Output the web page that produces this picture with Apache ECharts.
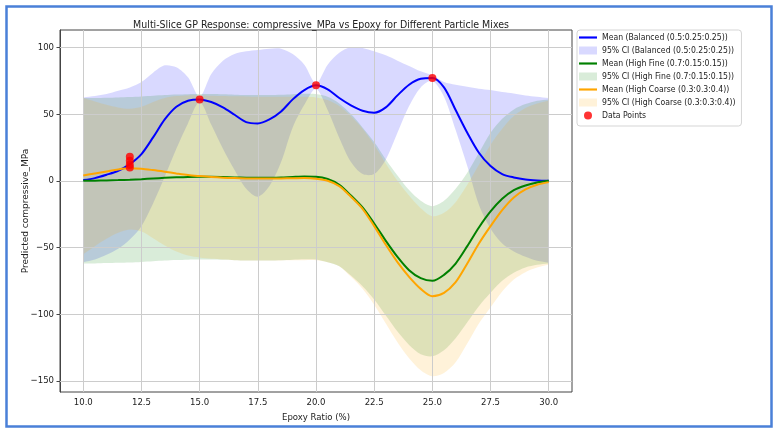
<!DOCTYPE html>
<html>
<head>
<meta charset="utf-8">
<script src="https://cdn.jsdelivr.net/npm/echarts@6/dist/echarts.min.js"></script>
<style>
  html, body { margin: 0; padding: 0; background: #fff; }
  #chart { width: 779px; height: 433px; }
</style>
</head>
<body>
<div id="chart"></div>
<script>
// epoxy ratio grid (%)
const epoxy = [10, 10.5, 11, 11.5, 12, 12.5, 13, 13.5, 14, 14.5, 15, 15.5, 16, 16.5, 17, 17.5, 18, 18.5, 19, 19.5, 20,
  20.5, 21, 21.5, 22, 22.5, 23, 23.5, 24, 24.5, 25, 25.5, 26, 26.5, 27, 27.5, 28, 28.5, 29, 29.5, 30];

// Balanced (0.5:0.25:0.25)
const balancedMean = [0.5, 2, 4.5, 7.5, 12.5, 20, 32.5, 46, 55.5, 60, 61, 59, 55, 49.5, 44, 43, 46, 52, 61, 68, 71.5,
  68.5, 62, 56.5, 52.5, 51, 55, 64, 72, 76.5, 77, 70, 53, 36, 21, 11, 5, 2.5, 1, 0.3, 0];
const balancedUpper = [62.5, 63.5, 65, 67.5, 70, 74, 81, 86.5, 85, 77.5, 63, 80, 90, 95, 97, 98, 99, 99, 95, 87, 73,
  87, 96, 100, 99.5, 97, 94, 90, 86, 82, 79, 74, 72, 70.5, 69, 68, 66.5, 65.5, 64, 63, 62];
const balancedLower = [-61, -59, -55.5, -51, -44, -34, -17, 3, 24, 43, 59, 42, 24, 8, -6, -12, -4, 14, 40, 57, 69,
  53, 32, 14, 5, 5, 16, 36, 56, 70, 75, 63, 38, 11, -18, -36, -47, -53, -57, -60, -61.5];

// High Fine (0.7:0.15:0.15)
const fineMean = [0, 0.1, 0.3, 0.5, 0.8, 1.2, 1.7, 2.2, 2.6, 2.9, 3, 3, 2.8, 2.5, 2.3, 2.2, 2.3, 2.5, 2.9, 3.2, 3,
  1.3, -3, -11, -20, -32, -45, -57, -67, -73, -75, -70.5, -62, -49, -35, -23, -13.5, -7, -3.5, -1.3, 0];
const fineUpper = [62, 62, 62.3, 62.5, 62.8, 63.2, 63.7, 64.2, 64.6, 64.9, 65, 65, 64.8, 64.5, 64.3, 64.2, 64.3, 64.5, 64.9, 65.2, 65,
  63, 58, 50, 40, 29, 16, 4, -7, -15, -19, -15, -6, 6, 21, 36, 46.5, 53.5, 57.5, 60, 61];
const fineLower = [-62, -62, -61.7, -61.5, -61.2, -60.8, -60.3, -59.8, -59.4, -59.1, -59, -59, -59.2, -59.5, -59.7, -59.8, -59.7, -59.5, -59.1, -58.8, -59,
  -61, -64, -71, -79, -89, -101, -113, -123, -130, -131.5, -127, -118, -106, -94, -84, -75, -69, -65, -63, -62];

// High Coarse (0.3:0.3:0.4)
const coarseMean = [4, 5.5, 7, 8.5, 9.3, 9, 8, 6.8, 5.5, 4.3, 3.5, 2.8, 2.3, 2, 1.8, 1.7, 1.7, 1.8, 1.9, 2, 1.5,
  0, -4, -12, -21, -34, -48, -61, -72, -81, -86.5, -84, -76, -62, -47, -34, -22, -12.5, -6.5, -3, -1];
const coarseUpper = [62, 59.5, 57, 55, 54, 55.5, 59, 62, 63.5, 64, 64, 63.8, 63.5, 63.3, 63.2, 63, 63, 63, 63, 63, 62.5,
  60.5, 56, 48.5, 39, 27, 13, 0, -11, -20.5, -26.5, -24, -16, -3, 12, 27, 39, 48.5, 54.5, 58, 60];
const coarseLower = [-55, -49, -43.5, -39, -36.5, -38, -43, -48.5, -53, -56, -57.5, -58.5, -59, -59.5, -59.7, -59.8, -59.8, -59.7, -59.6, -59.5, -59.5,
  -61, -64, -72, -81, -93, -107, -121, -133, -142, -146.5, -144, -136, -122, -107, -95, -83, -74, -68.5, -65, -63];

// observed data points
const pointX = [12, 12, 12, 12, 15, 20, 25];
const pointY = [18, 15, 12, 10, 61, 71.5, 77];

const xTicks = [10, 12.5, 15, 17.5, 20, 22.5, 25, 27.5, 30];
const yTicks = [-150, -100, -50, 0, 50, 100];

const narrow = "'Liberation Sans Narrow', 'DejaVu Sans Condensed', 'DejaVu Sans', sans-serif";
const lineIcon = "path://M0 0H20V2.4H0Z";

const mixes = [
  { key: "bal", mean: balancedMean, up: balancedUpper, lo: balancedLower, color: "#0000ff",
    fill: "rgba(0,0,255,0.15)", label: "Balanced (0.5:0.25:0.25)" },
  { key: "fine", mean: fineMean, up: fineUpper, lo: fineLower, color: "#008000",
    fill: "rgba(0,128,0,0.15)", label: "High Fine (0.7:0.15:0.15)" },
  { key: "coarse", mean: coarseMean, up: coarseUpper, lo: coarseLower, color: "#ffa500",
    fill: "rgba(255,165,0,0.15)", label: "High Coarse (0.3:0.3:0.4)" },
];

// confidence band as one smoothed polygon: upper edge left->right, lower edge right->left
function bandRenderer(up, lo, fill) {
  return function (params, api) {
    const top = epoxy.map((x, i) => api.coord([x, up[i]]));
    const bottom = epoxy.map((x, i) => api.coord([x, lo[i]])).reverse();
    // repeat the corner points so the vertical end edges stay straight
    const pts = [top[0], ...top, top[top.length - 1], bottom[0], ...bottom, bottom[bottom.length - 1]];
    return {
      type: "polygon",
      shape: { points: pts, smooth: 0.3 },
      style: { fill: fill, stroke: null },
      silent: true,
    };
  };
}

const series = [];
mixes.forEach((m) => {
  series.push({
    type: "custom", name: "95% CI (" + m.label + ")", data: [[epoxy[0], m.mean[0]]],
    renderItem: bandRenderer(m.up, m.lo, m.fill), itemStyle: { color: m.fill }, z: 1, silent: true,
  });
});
mixes.forEach((m, i) => {
  const s = {
    type: "line", name: "Mean (" + m.label + ")", data: epoxy.map((x, j) => [x, m.mean[j]]),
    symbol: "none", smooth: 0.3,
    lineStyle: { color: m.color, width: 2 }, itemStyle: { color: m.color }, z: 3, silent: true,
  };
  if (i === 0) {
    // grid lines sit above the bands but under the curves, like matplotlib
    s.markLine = {
      silent: true, symbol: "none", z: 2, animation: false,
      label: { show: false },
      lineStyle: { color: "#cccccc", width: 1, type: "solid" },
      emphasis: { disabled: true },
      data: [...xTicks.map((v) => ({ xAxis: v })), ...yTicks.map((v) => ({ yAxis: v }))],
    };
  }
  series.push(s);
});
series.push({
  type: "scatter", name: "Data Points", data: pointX.map((x, i) => [x, pointY[i]]),
  symbolSize: 8, itemStyle: { color: "#ff0000" }, z: 5, silent: true,
});

const legendData = [];
mixes.forEach((m) => {
  legendData.push({ name: "Mean (" + m.label + ")", icon: lineIcon, itemStyle: { color: m.color } });
  legendData.push({ name: "95% CI (" + m.label + ")", icon: "rect", itemStyle: { color: m.fill } });
});
legendData.push({ name: "Data Points", icon: "circle", itemStyle: { color: "#ff0000" } });

const chart = echarts.init(document.getElementById("chart"), null, { renderer: "canvas" });
chart.setOption({
  animation: false,
  backgroundColor: "#fff",
  title: {
    text: "Multi-Slice GP Response: compressive_MPa vs Epoxy for Different Particle Mixes",
    left: 316, top: 15, textAlign: "center",
    textStyle: { fontFamily: narrow, fontSize: 10.5, fontWeight: "normal", color: "#222" },
  },
  legend: {
    orient: "vertical", left: 577, top: 30, itemWidth: 18, itemHeight: 8, itemGap: 4,
    padding: [3, 6, 6, 2], borderColor: "#d5d5d5", borderWidth: 1, borderRadius: 3,
    backgroundColor: "#fff", selectedMode: false,
    textStyle: { fontFamily: narrow, fontSize: 8.6, color: "#222" },
    data: legendData,
  },
  grid: { left: 60, right: 207, top: 30, bottom: 41, show: true, borderColor: "#444", borderWidth: 1 },
  xAxis: {
    type: "value", min: 9, max: 31,
    name: "Epoxy Ratio (%)", nameLocation: "middle", nameGap: 19,
    nameTextStyle: { fontFamily: narrow, fontSize: 9.5, color: "#222" },
    axisLine: { lineStyle: { color: "#444" } },
    axisTick: { customValues: xTicks, length: 3.5, lineStyle: { color: "#444" } },
    axisLabel: { customValues: xTicks, fontFamily: narrow, fontSize: 9.5, color: "#222", margin: 6,
      formatter: (v) => v.toFixed(1) },
    splitLine: { show: false },
  },
  yAxis: {
    type: "value", min: -158.3, max: 113,
    name: "Predicted compressive_MPa", nameLocation: "middle", nameRotate: 90, nameGap: 30,
    nameMoveOverlap: false,
    nameTextStyle: { fontFamily: "'DejaVu Sans', sans-serif", fontSize: 9, color: "#222" },
    axisLine: { show: true, lineStyle: { color: "#444" } },
    axisTick: { show: true, customValues: yTicks, length: 3.5, lineStyle: { color: "#444" } },
    axisLabel: { customValues: yTicks, fontFamily: narrow, fontSize: 9.5, color: "#222", margin: 6,
      formatter: (v) => (v < 0 ? "\u2212" + Math.abs(v) : String(v)) },
    splitLine: { show: false },
  },
  graphic: [{
    type: "rect", silent: true, z: 100,
    shape: { x: 6.5, y: 6.5, width: 765, height: 420 },
    style: { fill: "none", stroke: "#4a80d8", lineWidth: 2.5 },
  }],
  series,
});
window.addEventListener("resize", () => chart.resize());
</script>
</body>
</html>
